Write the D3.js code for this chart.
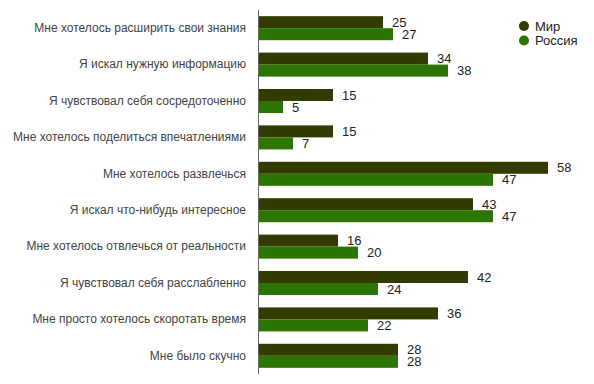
<!DOCTYPE html>
<html>
<head>
<meta charset="utf-8">
<script src="https://cdn.jsdelivr.net/npm/d3@7"></script>
<style>
  body { margin: 0; background: #fff; }
  text { font-family: Arial, "Liberation Sans", sans-serif; }
</style>
</head>
<body>
<svg id="chart"></svg>
<script>
// Data
const categories = [
  "Мне хотелось расширить свои знания",
  "Я искал нужную информацию",
  "Я чувствовал себя сосредоточенно",
  "Мне хотелось поделиться впечатлениями",
  "Мне хотелось развлечься",
  "Я искал что-нибудь интересное",
  "Мне хотелось отвлечься от реальности",
  "Я чувствовал себя расслабленно",
  "Мне просто хотелось скоротать время",
  "Мне было скучно"
];
const seriesNames = ["Мир", "Россия"];
const worldValues = [25, 34, 15, 15, 58, 43, 16, 42, 36, 28];
const russiaValues = [27, 38, 5, 7, 47, 47, 20, 24, 22, 28];
const colors = ["#333b00", "#2b7500"];

const width = 594;
const height = 384;
const margin = { top: 10, right: 36, bottom: 10, left: 258 };

const svg = d3.select("#chart")
    .attr("width", width)
    .attr("height", height);

const rows = categories.map((c, i) => ({ cat: c, values: [worldValues[i], russiaValues[i]] }));

// Scales
const x = d3.scaleLinear()
    .domain([0, 60])
    .range([margin.left, margin.left + 300]);

const y = d3.scaleBand()
    .domain(categories)
    .range([margin.top, height - margin.bottom])
    .paddingInner(0.34)
    .paddingOuter(0.17);

const ySub = d3.scaleBand()
    .domain([0, 1])
    .range([0, y.bandwidth()]);

// Bars
const groups = svg.selectAll(".group")
    .data(rows)
    .enter()
    .append("g")
    .attr("class", "group")
    .attr("transform", d => `translate(0, ${y(d.cat)})`);

groups.selectAll("rect")
    .data(d => d.values)
    .enter()
    .append("rect")
    .attr("x", x(0))
    .attr("y", (d, i) => ySub(i))
    .attr("width", d => x(d) - x(0))
    .attr("height", ySub.bandwidth())
    .attr("fill", (d, i) => colors[i]);

// Value labels
groups.selectAll(".val")
    .data(d => d.values)
    .enter()
    .append("text")
    .attr("class", "val")
    .attr("x", d => x(d) + 9)
    .attr("y", (d, i) => ySub(i) + ySub.bandwidth() / 2)
    .attr("dy", "0.36em")
    .attr("font-size", 13)
    .attr("fill", "#222")
    .text(d => d);

// Category axis
const yAxis = d3.axisLeft(y).tickSize(0).tickPadding(12);
const axisG = svg.append("g")
    .attr("transform", `translate(${x(0)}, 0)`)
    .call(yAxis);
axisG.select(".domain")
    .attr("d", `M0.5,${margin.top}V${height - margin.bottom}`)
    .attr("stroke", "#666");
axisG.selectAll("text")
    .attr("font-size", 12)
    .attr("fill", "#444")
    .attr("font-family", "Arial, 'Liberation Sans', sans-serif");

// Legend
const legend = svg.append("g")
    .attr("transform", "translate(524, 26)");
const items = legend.selectAll("g")
    .data(seriesNames)
    .enter()
    .append("g")
    .attr("transform", (d, i) => `translate(0, ${i * 14.5})`);
items.append("circle")
    .attr("r", 5)
    .attr("fill", (d, i) => colors[i]);
items.append("text")
    .attr("x", 11)
    .attr("dy", "0.36em")
    .attr("font-size", 13)
    .attr("fill", "#222")
    .text(d => d);
</script>
</body>
</html>
